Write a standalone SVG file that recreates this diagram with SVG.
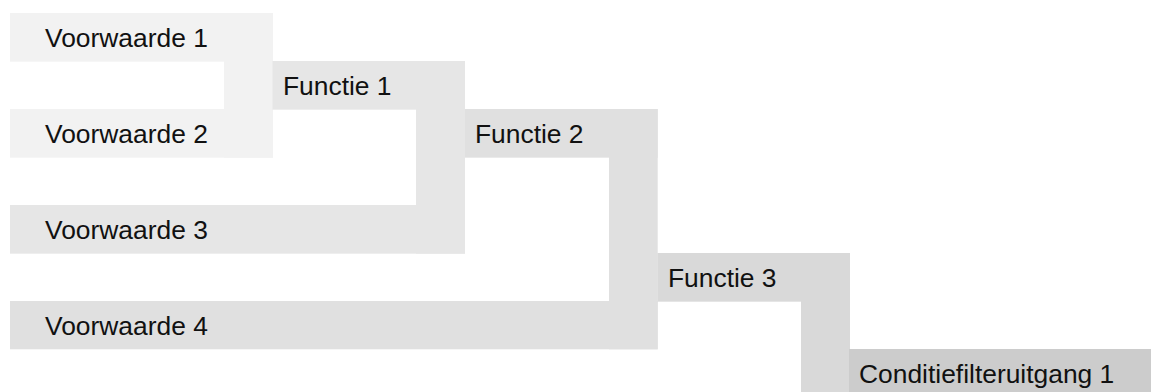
<svg xmlns="http://www.w3.org/2000/svg" width="1151" height="392" viewBox="0 0 1151 392">
<style>
text{font-family:"Liberation Sans",Arial,sans-serif;font-size:26.4px;fill:#111}
.l1{fill:#f2f2f2}.l2{fill:#e6e6e6}.l3{fill:#e0e0e0}.l4{fill:#d9d9d9}.l5{fill:#cccccc}
</style>
<rect width="1151" height="392" fill="#fff"/>
<g id="connectors">
<rect class="l1" x="224" y="13" width="49" height="144.67"/>
<rect class="l2" x="416" y="61" width="49" height="192.67"/>
<rect class="l3" x="609" y="109" width="48.7" height="240.3"/>
<rect class="l4" x="801" y="253" width="49" height="139"/>
</g>
<g id="voorwaarde1"><rect class="l1" x="10" y="13" width="263" height="48.67"/><text x="45" y="46.7">Voorwaarde 1</text></g>
<g id="voorwaarde2"><rect class="l1" x="10" y="109" width="263" height="48.67"/><text x="45" y="142.7">Voorwaarde 2</text></g>
<g id="functie1"><rect class="l2" x="272.5" y="61" width="192.5" height="48.67"/><text x="283" y="94.7">Functie 1</text></g>
<g id="voorwaarde3"><rect class="l2" x="10" y="205" width="455" height="48.67"/><text x="45" y="238.7">Voorwaarde 3</text></g>
<g id="functie2"><rect class="l3" x="465" y="109" width="192.7" height="48.67"/><text x="475" y="142.7">Functie 2</text></g>
<g id="voorwaarde4"><rect class="l3" x="10" y="301" width="647.7" height="48.3"/><text x="45" y="334.7">Voorwaarde 4</text></g>
<g id="functie3"><rect class="l4" x="657.5" y="253" width="192.5" height="48.67"/><text x="668" y="286.7">Functie 3</text></g>
<g id="conditiefilteruitgang1"><rect class="l5" x="849" y="349" width="302" height="43"/><text x="859" y="382.7">Conditiefilteruitgang 1</text></g>
</svg>
